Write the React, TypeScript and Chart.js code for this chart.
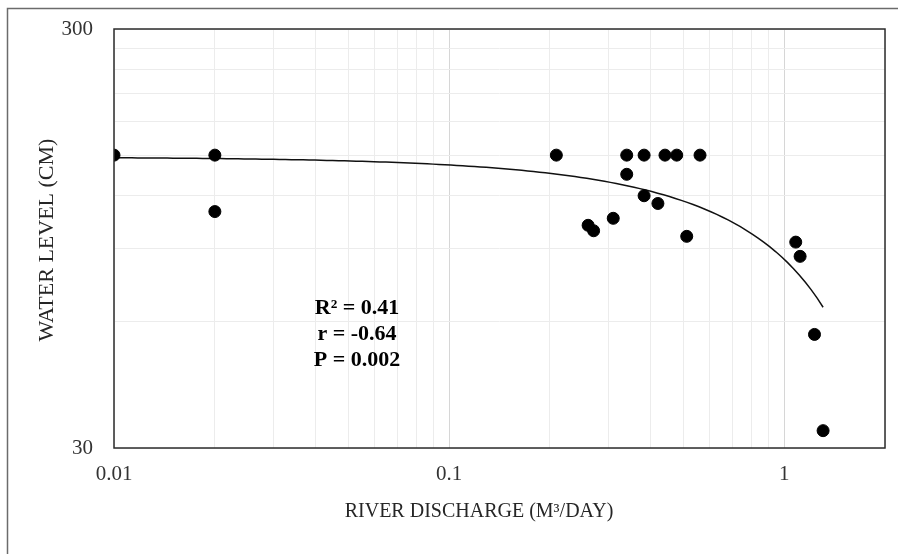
import { useEffect, useRef } from "react";
import { Chart, registerables } from "chart.js";

Chart.register(...registerables);

// ---- data ----
const dischargeX = [0.01, 0.02, 0.02, 0.209, 0.339, 0.382, 0.441, 0.478, 0.561, 0.339, 0.382, 0.42, 0.26, 0.27, 0.309, 0.512, 1.083, 1.116, 1.232, 1.307];
const waterLevel = [150, 150, 110, 150, 150, 150, 150, 150, 150, 135, 120, 115, 102, 99, 106, 96, 93, 86, 56, 33];

const xTickValues = [0.01, 0.02, 0.03, 0.04, 0.05, 0.06, 0.07, 0.08, 0.09, 0.1, 0.2, 0.3, 0.4, 0.5, 0.6, 0.7, 0.8, 0.9, 1, 2];
const xTickLabels = ["0.01", "0.1", "1"];
const xMajorGrid = [0.1, 1];
const yTickValues = [30, 60, 90, 120, 150, 180, 210, 240, 270, 300];
const yTickLabels = ["30", "300"];

const statsLines = ["R² = 0.41", "r = -0.64", "P = 0.002"];
const xTitle = "RIVER DISCHARGE (M³/DAY)";
const yTitle = "WATER LEVEL (CM)";

const FONT = "'Liberation Serif', 'Times New Roman', serif";

// linear least-squares trendline (as the spreadsheet draws it) from the data
function trendline(xs: number[], ys: number[]) {
  const n = xs.length;
  const mx = xs.reduce((a, b) => a + b, 0) / n;
  const my = ys.reduce((a, b) => a + b, 0) / n;
  let sxy = 0, sxx = 0;
  for (let i = 0; i < n; i++) {
    sxy += (xs[i] - mx) * (ys[i] - my);
    sxx += (xs[i] - mx) * (xs[i] - mx);
  }
  const b = sxy / sxx;
  const a = my - b * mx;
  const lo = Math.log10(Math.min(...xs));
  const hi = Math.log10(Math.max(...xs));
  const pts: { x: number; y: number }[] = [];
  const steps = 120;
  for (let i = 0; i <= steps; i++) {
    const x = Math.pow(10, lo + ((hi - lo) * i) / steps);
    pts.push({ x, y: a + b * x });
  }
  return pts;
}

const decorPlugin = {
  id: "decor",
  afterDraw(chart: any) {
    const ctx = chart.ctx as CanvasRenderingContext2D;
    const area = chart.chartArea;
    ctx.save();
    // plot-area frame
    ctx.strokeStyle = "#2b2b2b";
    ctx.lineWidth = 1.5;
    ctx.strokeRect(area.left, area.top, area.right - area.left, area.bottom - area.top);
    // outer chart frame (left & top visible)
    ctx.strokeStyle = "#6b6b6b";
    ctx.lineWidth = 1.5;
    ctx.beginPath();
    ctx.moveTo(7.5, chart.height);
    ctx.lineTo(7.5, 8.5);
    ctx.lineTo(chart.width, 8.5);
    ctx.stroke();

    // axis titles
    ctx.fillStyle = "#262626";
    ctx.textAlign = "center";
    ctx.textBaseline = "middle";
    ctx.font = `20px ${FONT}`;
    ctx.fillText(xTitle, 479, 512);
    ctx.save();
    ctx.font = `22px ${FONT}`;
    ctx.translate(47, 240);
    ctx.rotate(-Math.PI / 2);
    ctx.fillText(yTitle, 0, 0);
    ctx.restore();

    // statistics annotation
    ctx.fillStyle = "#000";
    ctx.font = `bold 22px ${FONT}`;
    const cx = 357;
    const ys = [308, 334, 360];
    statsLines.forEach((t, i) => ctx.fillText(t, cx, ys[i]));
    ctx.restore();
  },
};

export default function App() {
  const ref = useRef<HTMLCanvasElement | null>(null);

  useEffect(() => {
    if (!ref.current) return;
    const chart = new Chart(ref.current, {
      type: "scatter",
      data: {
        datasets: [
          {
            type: "scatter",
            label: "Water level",
            data: dischargeX.map((x, i) => ({ x, y: waterLevel[i] })),
            backgroundColor: "#000",
            borderColor: "#000",
            pointRadius: 6,
            pointHoverRadius: 6,
            order: 0,
          },
          {
            type: "line",
            label: "Trend",
            data: trendline(dischargeX, waterLevel),
            borderColor: "#111",
            borderWidth: 1.5,
            pointRadius: 0,
            fill: false,
            tension: 0,
            order: 1,
          } as any,
        ],
      },
      options: {
        animation: false,
        responsive: false,
        layout: { padding: { left: 0, top: 29, right: 13, bottom: 0 } },
        plugins: { legend: { display: false }, tooltip: { enabled: false } },
        scales: {
          x: {
            type: "logarithmic",
            min: 0.01,
            max: 2,
            border: { display: false },
            afterBuildTicks: (scale: any) => {
              scale.ticks = xTickValues.map((v) => ({ value: v }));
            },
            afterFit: (scale: any) => {
              scale.height = 106;
            },
            grid: {
              drawTicks: true,
              tickLength: 14,
              tickColor: "rgba(0,0,0,0)",
              lineWidth: 1,
              color: (c: any) =>
                xMajorGrid.includes(c.tick?.value) ? "#d6d6d6" : "#ececec",
            },
            ticks: {
              autoSkip: false,
              maxRotation: 0,
              padding: 0,
              color: "#333",
              font: { family: FONT, size: 21 },
              callback: (v: any) => {
                const s = String(Number(v));
                return xTickLabels.includes(s) ? s : "";
              },
            },
          },
          y: {
            type: "logarithmic",
            min: 30,
            max: 300,
            border: { display: false },
            afterBuildTicks: (scale: any) => {
              scale.ticks = yTickValues.map((v) => ({ value: v }));
            },
            afterFit: (scale: any) => {
              scale.width = 114;
            },
            grid: {
              drawTicks: true,
              tickLength: 21,
              tickColor: "rgba(0,0,0,0)",
              color: "#ececec",
              lineWidth: 1,
            },
            ticks: {
              autoSkip: false,
              padding: 0,
              color: "#333",
              font: { family: FONT, size: 21 },
              callback: (v: any) => {
                const s = String(Number(v));
                return yTickLabels.includes(s) ? s : "";
              },
            },
          },
        },
      },
      plugins: [decorPlugin],
    });
    return () => chart.destroy();
  }, []);

  return (
    <div style={{ position: "absolute", left: 0, top: 0, width: 898, height: 554, background: "#fff" }}>
      <canvas ref={ref} width={898} height={554} style={{ display: "block" }} />
    </div>
  );
}
